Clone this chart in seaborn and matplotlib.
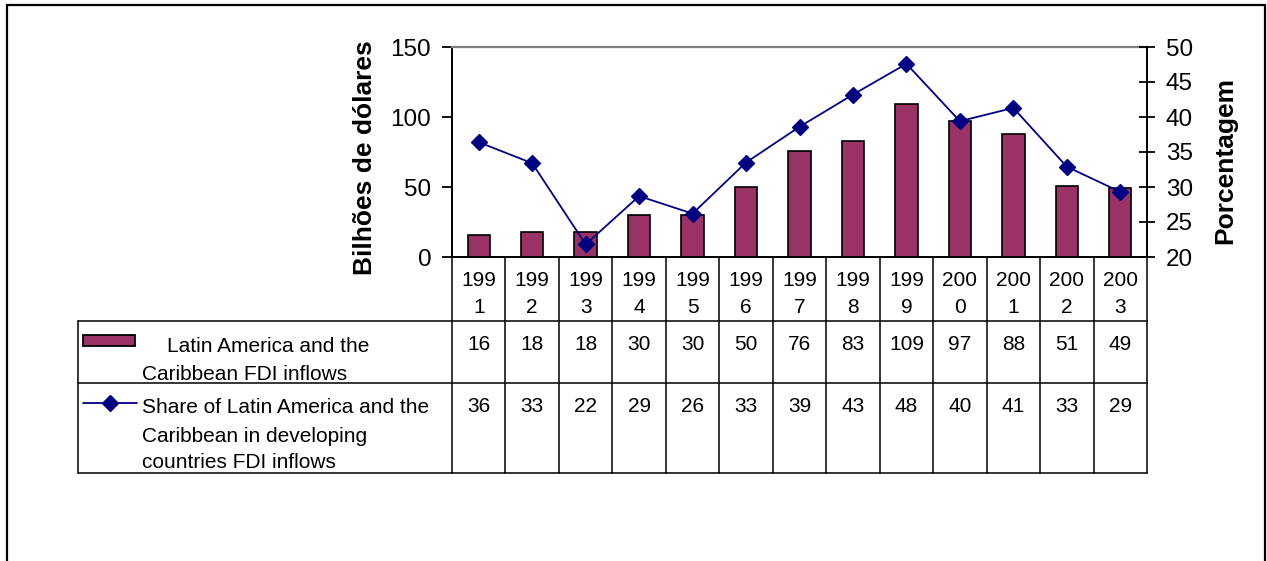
import numpy as np
import pandas as pd
import matplotlib
matplotlib.use("Agg")
import matplotlib.pyplot as plt
from matplotlib.lines import Line2D
from matplotlib.patches import Rectangle
from matplotlib.transforms import blended_transform_factory
import seaborn as sns

# data
years = ["1991", "1992", "1993", "1994", "1995", "1996", "1997",
         "1998", "1999", "2000", "2001", "2002", "2003"]
fdi_inflows = [16, 18, 18, 30, 30, 50, 76, 83, 109, 97, 88, 51, 49]
share_line = [36.4, 33.4, 21.8, 28.7, 26.2, 33.5, 38.6, 43.2, 47.6, 39.4, 41.3, 32.9, 29.3]
share_table = [36, 33, 22, 29, 26, 33, 39, 43, 48, 40, 41, 33, 29]
bar_label = ["Latin America and the", "Caribbean FDI inflows"]
line_label = ["Share of Latin America and the", "Caribbean in developing",
              "countries FDI inflows"]

BAR_COLOR = "#993366"
LINE_COLOR = "#000080"

sns.set_style("white")
plt.rcParams["font.family"] = ["Liberation Sans", "DejaVu Sans"]
plt.rcParams["text.color"] = "black"
plt.rcParams["xtick.color"] = "black"
plt.rcParams["ytick.color"] = "black"
plt.rcParams["axes.labelcolor"] = "black"

W, H = 1267, 561
fig = plt.figure(figsize=(W / 100, H / 100), dpi=100)


def fx(x):
    return x / W


def fy(y):
    return 1 - y / H


ax = fig.add_axes([fx(452), fy(257), (1147 - 452) / W, (257 - 47) / H])
df = pd.DataFrame({"year": years, "fdi": fdi_inflows, "share": share_line})

sns.barplot(data=df, x="year", y="fdi", color=BAR_COLOR, saturation=1,
            edgecolor="black", linewidth=1.2, width=0.42, ax=ax)
ax.set_ylim(0, 150)
ax.set_yticks([0, 50, 100, 150])
ax.set_xlim(-0.5, 12.5)
ax.set_xlabel("")
ax.set_ylabel("")
ax.tick_params(axis="x", length=0, labelbottom=False)
ax.tick_params(axis="y", direction="out", length=7, width=1.3, pad=8,
               labelsize=17.5, left=True)
ax.spines["top"].set_color("#808080")
ax.spines["top"].set_linewidth(1.6)
ax.spines["right"].set_visible(False)
for s in ["left", "bottom"]:
    ax.spines[s].set_color("black")
    ax.spines[s].set_linewidth(1.4)

ax2 = ax.twinx()
sns.pointplot(data=df, x="year", y="share", color=LINE_COLOR, markers="D",
              markersize=8, linewidth=1.3, errorbar=None, ax=ax2)
ax2.set_ylim(20, 50)
ax2.set_yticks(np.arange(20, 51, 5))
ax2.set_xlim(-0.5, 12.5)
ax2.set_xlabel("")
ax2.set_ylabel("")
ax2.patch.set_visible(False)
ax2.tick_params(axis="x", length=0, labelbottom=False)
ax2.tick_params(axis="y", direction="inout", length=11, width=1.3, pad=8,
                labelsize=17.5, right=True)
for s in ["left", "top", "bottom"]:
    ax2.spines[s].set_visible(False)
ax2.spines["right"].set_color("black")
ax2.spines["right"].set_linewidth(1.4)

fig.text(fx(365), fy(158), "Bilhões de dólares", rotation=90, ha="center",
         va="center", fontsize=19, fontweight="bold")
fig.text(fx(1225), fy(160), "Porcentagem", rotation=90, ha="center",
         va="center", fontsize=19, fontweight="bold")

# data table under the plot
tr = blended_transform_factory(ax.transData, fig.transFigure)
lw = 1.1
for edge in np.arange(len(years) + 1) - 0.5:
    fig.add_artist(Line2D([edge, edge], [fy(257), fy(473)], transform=tr,
                          color="black", lw=lw))
for yy in [321, 383, 473]:
    fig.add_artist(Line2D([fx(78), fx(1147)], [fy(yy), fy(yy)],
                          color="black", lw=lw))
fig.add_artist(Line2D([fx(78), fx(78)], [fy(321), fy(473)], color="black", lw=lw))

for i, yr in enumerate(years):
    fig.text(i, fy(286), yr[:3], transform=tr, ha="center", va="baseline", fontsize=15)
    fig.text(i, fy(313), yr[3:], transform=tr, ha="center", va="baseline", fontsize=15)
    fig.text(i, fy(350), str(fdi_inflows[i]), transform=tr, ha="center",
             va="baseline", fontsize=15)
    fig.text(i, fy(412), str(share_table[i]), transform=tr, ha="center",
             va="baseline", fontsize=15)

# legend keys and labels
fig.add_artist(Rectangle((fx(83), fy(346)), fx(135) - fx(83), (346 - 335) / H,
                         transform=fig.transFigure, facecolor=BAR_COLOR,
                         edgecolor="black", lw=1.3))
fig.add_artist(Line2D([fx(83), fx(137)], [fy(403), fy(403)], color=LINE_COLOR, lw=1.3))
fig.add_artist(Line2D([fx(110)], [fy(403)], color=LINE_COLOR, marker="D",
                      markersize=8, lw=0))
fig.text(fx(167), fy(352), bar_label[0], ha="left", va="baseline", fontsize=15)
fig.text(fx(142), fy(380), bar_label[1], ha="left", va="baseline", fontsize=15)
for txt, yb in zip(line_label, [413, 442, 468]):
    fig.text(fx(142), fy(yb), txt, ha="left", va="baseline", fontsize=15)

# outer chart frame
frame = dict(color="black", lw=1.6)
fig.add_artist(Line2D([fx(7), fx(7)], [fy(5), 0], **frame))
fig.add_artist(Line2D([fx(7), fx(1265)], [fy(5), fy(5)], **frame))
fig.add_artist(Line2D([fx(1265), fx(1265)], [fy(5), 0], **frame))

fig.savefig("out.png", dpi=100)
